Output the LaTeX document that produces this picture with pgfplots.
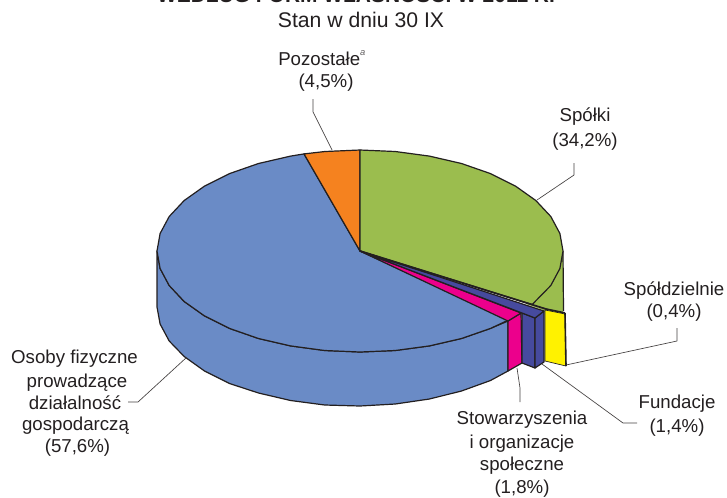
\documentclass[border=0pt]{standalone}
\usepackage{pgfplots}
\pgfplotsset{compat=1.18}
\usepackage{fontspec}
\setmainfont{Liberation Sans}
\definecolor{cblue}{HTML}{6A8BC6}
\definecolor{cgreen}{HTML}{9BBD4E}
\definecolor{corange}{HTML}{F5821F}
\definecolor{cpink}{HTML}{EC008C}
\definecolor{cnavy}{HTML}{464A9E}
\definecolor{cyellow}{HTML}{FFF200}
\definecolor{cline}{HTML}{231F20}
\tikzset{
    slice/.style={draw=cline, line width=0.9pt},
    leader/.style={draw=cline!85, line width=0.5pt},
    lab/.style={font=\fontsize{14}{16}\selectfont, text=cline, inner sep=0pt, align=center},
}
\begin{document}
\begin{tikzpicture}
\path[use as bounding box, clip] (0,0) rectangle (545.25pt,372.75pt);
\begin{axis}[
    at={(0,0)}, anchor=south west,
    scale only axis, width=545.25pt, height=372.75pt,
    xmin=0, xmax=727, ymin=0, ymax=497, y dir=reverse,
    hide axis, clip=false,
    every axis plot/.append style={line join=round},
]
% side of the big slice
\addplot[slice, fill=cblue] coordinates {
    (157,251)(160.1,268.5)(169.2,285.5)(184.2,301.5)(204.5,315.9)(229.5,328.4)(258.5,338.5)
    (290.6,345.9)(324.7,350.5)(360,352)(395.3,350.5)(429.4,345.9)(461.5,338.5)(490.5,328.4)(508,321)
    (508,371)(490.5,380.5)(461.5,391)(429.4,399)(395.3,404)(360,406)(324.7,405)(290.6,400.5)
    (258.5,393)(229.5,383.5)(204.5,371)(184.2,356.5)(169.2,341)(160.1,324)(157,307)
} -- cycle;
% side of the green slice, behind the top
\addplot[draw=none, fill=cgreen] coordinates {
    (563,251)(563,314)(546,311)(526,304)(550,270)
} -- cycle;
\addplot[draw=cline, line width=0.9pt] coordinates {(563,251)(563.5,311)};
% top of the big slice
\addplot[slice, fill=cblue] coordinates {
    (360,251)(508.5,320)(490.5,328.4)(461.5,338.5)(429.4,345.9)(395.3,350.5)(360,352)(324.7,350.5)
    (290.6,345.9)(258.5,338.5)(229.5,328.4)(204.5,315.9)(184.2,301.5)(169.2,285.5)(160.1,268.5)
    (157,251)(160.1,233.5)(169.2,216.5)(184.2,200.5)(204.5,186.1)(229.5,173.6)(258.5,163.5)
    (290.6,156.1)(304,153.9)
} -- cycle;
% orange
\addplot[slice, fill=corange] coordinates {
    (360,251)(304,153.9)(325,151.5)(360,150)
} -- cycle;
% green top
\addplot[slice, fill=cgreen] coordinates {
    (360,251)(360,150)(395.3,151.5)(429.4,156.1)(461.5,163.5)(490.5,173.6)(515.5,186.1)(535.8,200.5)
    (550.8,216.5)(559.9,233.5)(563,251)(559.9,268.5)(550.8,285.5)(532.2,304.5)
} -- cycle;
% pink
\addplot[slice, fill=cpink] coordinates {(508,321)(521,313)(522,363)(508,371)} -- cycle;
\addplot[slice, fill=cpink] coordinates {(360,251)(521,313)(508,321)} -- cycle;
% fundacje
\addplot[slice, fill=cnavy] coordinates {(522,313)(535,318)(535,368)(522,363)} -- cycle;
\addplot[slice, fill=cnavy] coordinates {(535,318)(544,311)(544,362)(535,368)} -- cycle;
\addplot[slice, fill=cnavy] coordinates {(360,251)(544,311)(535,318)(522,313)} -- cycle;
% spoldzielnie
\addplot[draw=cline, line width=1.3pt] coordinates {(360,251)(546,309)(565,313)};
\addplot[draw=cline, line width=0.5pt, fill=cyellow] coordinates {(545,310)(565,314)(566,366)(545,361)} -- cycle;
\addplot[draw=cline, line width=1.2pt] coordinates {(565,313)(566,366)};
% leaders
\addplot[leader] coordinates {(313,99)(313,112)(332,150)};
\addplot[leader] coordinates {(574,163)(574,175)(537,200)};
\addplot[leader] coordinates {(566,365)(677,341)(677,328)};
\addplot[leader] coordinates {(542,364)(623,423)(637,423)};
\addplot[leader] coordinates {(517,368)(520,388)(520,402)};
\addplot[leader] coordinates {(187,357)(138,402)(128,402)};
% texts
\node[lab, font=\fontsize{15.7}{17}\selectfont\bfseries] at (axis cs:356,-6.5) {WEDŁUG FORM WŁASNOŚCI W 2011 R.};
\node[lab, font=\fontsize{15.9}{18}\selectfont] at (axis cs:361,20) {Stan w dniu 30 IX};
\node[lab, anchor=west] at (axis cs:278,58) {Pozostałe\raisebox{1.1ex}{\fontsize{7}{8}\selectfont\itshape\color{cline!70}a}};
\node[lab] at (axis cs:326,83) {(4,5\%)};
\node[lab] at (axis cs:585,117) {Spółki};
\node[lab] at (axis cs:585,142) {(34,2\%)};
\node[lab] at (axis cs:674,291) {Spółdzielnie};
\node[lab] at (axis cs:674,313) {(0,4\%)};
\node[lab] at (axis cs:677,404) {Fundacje};
\node[lab] at (axis cs:677,428) {(1,4\%)};
\node[lab] at (axis cs:522,420) {Stowarzyszenia};
\node[lab] at (axis cs:522,444) {i organizacje};
\node[lab] at (axis cs:522,466) {społeczne};
\node[lab] at (axis cs:522,489) {(1,8\%)};
\node[lab] at (axis cs:74.5,359) {Osoby fizyczne};
\node[lab] at (axis cs:77,383) {prowadzące};
\node[lab] at (axis cs:75,403) {działalność};
\node[lab] at (axis cs:75.5,426) {gospodarczą};
\node[lab] at (axis cs:77.5,448) {(57,6\%)};
\end{axis}
\end{tikzpicture}
\end{document}
